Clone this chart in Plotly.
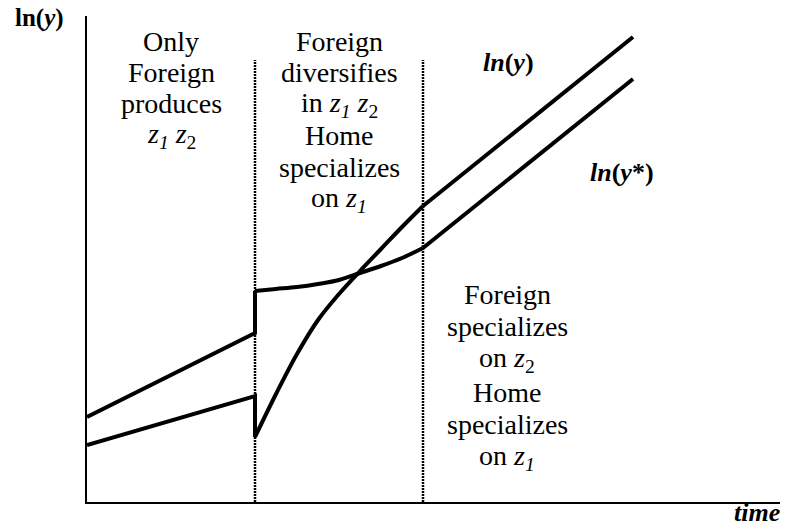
import plotly.graph_objects as go

# Time axis: phase boundaries at t = 1 and t = 2
phase_bounds = [1.0, 2.0]
boundary_top = 4.42

# Home output, ln(y)
t_home_p1 = [0.0, 1.0, 1.0]
ln_home_p1 = [0.57, 1.06, 0.65]
t_mid = [1.0, 1.125, 1.25, 1.375, 1.5, 1.625, 1.75, 1.875, 2.0]
ln_home_mid = [0.65, 1.08, 1.48, 1.82, 2.08, 2.31, 2.53, 2.75, 2.96]
t_p3 = [2.0, 3.25]
ln_home_p3 = [2.96, 4.65]

# Foreign output, ln(y*)
t_for_p1 = [0.0, 1.0, 1.0]
ln_for_p1 = [0.85, 1.69, 2.11]
ln_for_mid = [2.11, 2.13, 2.15, 2.18, 2.22, 2.29, 2.36, 2.44, 2.54]
ln_for_p3 = [2.54, 4.23]

# Phase descriptions
phase1_lines = ["Only", "Foreign", "produces",
                "<i>z</i><sub><i>1</i></sub> <i>z</i><sub>2</sub>"]
phase2_lines = ["Foreign", "diversifies",
                "in <i>z</i><sub><i>1</i></sub> <i>z</i><sub>2</sub>",
                "Home", "specializes", "on <i>z</i><sub><i>1</i></sub>"]
phase3_lines = ["Foreign", "specializes", "on <i>z</i><sub>2</sub>",
                "Home", "specializes", "on <i>z</i><sub><i>1</i></sub>"]

FONT = "Times New Roman, Liberation Serif, DejaVu Serif, serif"
W, H = 786, 531
L, R, T, B = 87, 6, 16, 29
PW, PH = W - L - R, H - T - B

fig = go.Figure()

line_style = dict(color="black", width=4)
for x, y, shape in [
    (t_home_p1, ln_home_p1, "linear"),
    (t_mid, ln_home_mid, "spline"),
    (t_p3, ln_home_p3, "linear"),
    (t_for_p1, ln_for_p1, "linear"),
    (t_mid, ln_for_mid, "spline"),
    (t_p3, ln_for_p3, "linear"),
]:
    fig.add_trace(go.Scatter(x=x, y=y, mode="lines",
                             line=dict(shape=shape, **line_style),
                             hoverinfo="skip", showlegend=False))

for b in phase_bounds:
    fig.add_shape(type="line", x0=b, x1=b, y0=0, y1=boundary_top,
                  xref="x", yref="y",
                  line=dict(color="black", width=2.5, dash="2px,1px"))


def px_x(v):
    return (v - L) / PW


def px_y(v):
    return (H - B - v) / PH


def label(text, x, baseline, size, xanchor="center"):
    fig.add_annotation(text=text, xref="paper", yref="paper",
                       x=px_x(x), y=px_y(baseline - 0.3375 * size),
                       xanchor=xanchor, yanchor="middle", showarrow=False,
                       font=dict(family=FONT, size=size, color="black"))


for lines, cx, baselines in [
    (phase1_lines, 171, [50.7, 81.7, 113.3, 145.0]),
    (phase2_lines, 339, [50.7, 81.7, 114.0, 145.0, 176.7, 208.5]),
    (phase3_lines, 507, [304.3, 336.0, 368.5, 401.7, 433.5, 466.7]),
]:
    for txt, bl in zip(lines, baselines):
        label(txt, cx, bl, 28)

label("<b>ln(<i>y</i>)</b>", 13, 26.7, 25, xanchor="left")
label("<b><i>ln</i>(<i>y</i>)</b>", 509, 71.7, 26)
label("<b><i>ln</i>(<i>y</i>*)</b>", 622, 181.7, 26)
label("<b><i>time</i></b>", 782, 521.7, 26, xanchor="right")

axis_common = dict(showline=True, linecolor="black", linewidth=2,
                   showgrid=False, zeroline=False, ticks="",
                   showticklabels=False, fixedrange=True)
fig.update_layout(
    width=W, height=H,
    margin=dict(l=L, r=R, t=T, b=B, autoexpand=False),
    paper_bgcolor="white", plot_bgcolor="white",
    font=dict(family=FONT, color="black"),
    xaxis=dict(range=[0, PW / 168.0], **axis_common),
    yaxis=dict(range=[0, PH / 100.0], **axis_common),
    showlegend=False,
)

fig.write_html("out.html", config={"displayModeBar": False})
